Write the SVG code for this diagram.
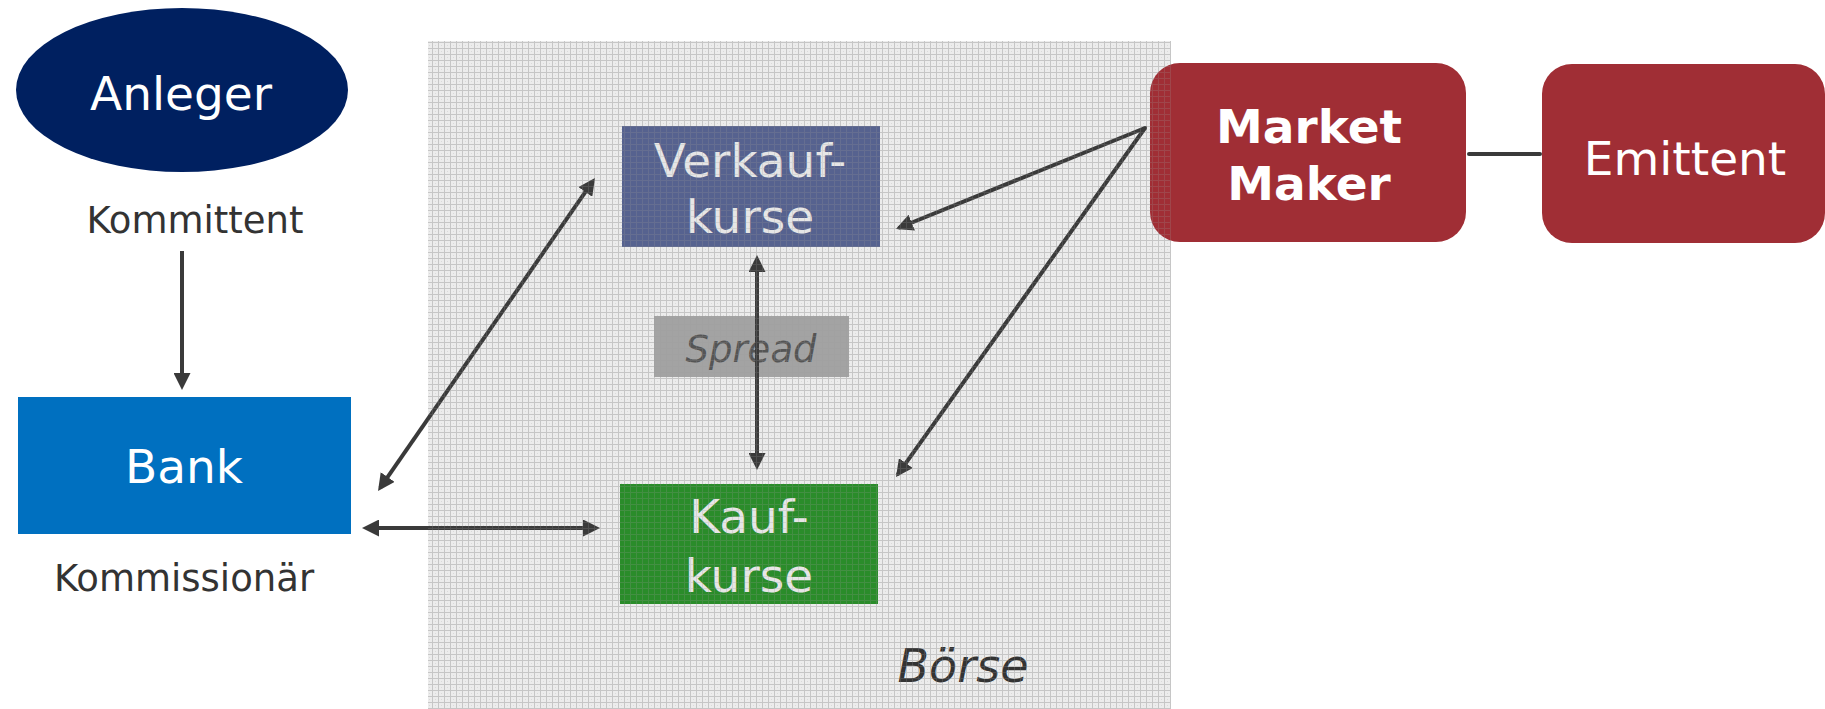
<svg xmlns="http://www.w3.org/2000/svg" width="1825" height="709" viewBox="0 0 1825 709">
<defs>
<pattern id="grid" width="6" height="6" patternUnits="userSpaceOnUse">
<rect width="6" height="6" fill="#ececec"/>
<rect x="0" y="0" width="6" height="1" fill="#d2d2d2"/>
<rect x="0" y="0" width="1" height="6" fill="#d2d2d2"/>
<rect x="3" y="3" width="1" height="1" fill="#dadada"/>
</pattern>
<pattern id="tex" width="6" height="6" patternUnits="userSpaceOnUse">
<rect x="0" y="0" width="6" height="1" fill="#9a9a9a"/>
<rect x="0" y="0" width="1" height="6" fill="#9a9a9a"/>
</pattern>
<marker id="ah" viewBox="0 0 17 17" refX="13" refY="8.5" markerWidth="17" markerHeight="17" markerUnits="userSpaceOnUse" orient="auto-start-reverse">
<path d="M0,0 L17,8.5 L0,17 z" fill="#3a3a3a"/>
</marker>
</defs>
<style>
.big{font-family:"DejaVu Sans",Verdana,sans-serif;font-size:47px;text-anchor:middle}
.lbl{font-family:"DejaVu Sans",Verdana,sans-serif;font-size:37px;fill:#333333;text-anchor:middle}
.w{fill:#ffffff}
.lt{fill:#e6e6e6}
.conn line{stroke:#3a3a3a;stroke-width:4;fill:none}
</style>
<rect width="1825" height="709" fill="#ffffff"/>
<g id="boerse">
<rect x="428" y="41" width="743" height="668" fill="url(#grid)"/>
<text x="963" y="682" font-family="DejaVu Sans, Verdana, sans-serif" font-size="46" font-style="italic" fill="#333333" text-anchor="middle">Börse</text>
</g>
<g id="anleger">
<ellipse cx="182" cy="90" rx="166" ry="82" fill="#002060"/>
<text x="181" y="110" class="big w">Anleger</text>
<text x="195" y="233" class="lbl">Kommittent</text>
</g>
<g id="bank">
<rect x="18" y="397" width="333" height="137" fill="#0070c0"/>
<text x="184" y="483" class="big w">Bank</text>
<text x="184" y="591" class="lbl">Kommissionär</text>
</g>
<g id="verkauf">
<rect x="622" y="126" width="258" height="121" fill="#56628f"/>
<text x="750" y="177" class="big lt">Verkauf-</text>
<text x="750" y="233" class="big lt">kurse</text>
</g>
<g id="spread">
<rect x="654" y="316" width="195" height="61" fill="#a3a3a3"/>
<text x="751" y="362" font-family="DejaVu Sans, Verdana, sans-serif" font-size="37" font-style="italic" fill="#555555" text-anchor="middle">Spread</text>
</g>
<g id="kauf">
<rect x="620" y="484" width="258" height="120" fill="#2a8c2a"/>
<text x="749" y="533" class="big lt">Kauf-</text>
<text x="749" y="592" class="big lt">kurse</text>
</g>
<g id="marketmaker">
<rect x="1150" y="63" width="316" height="179" rx="30" fill="#a02e35"/>
<text x="1309" y="143" class="big w" font-weight="bold">Market</text>
<text x="1309" y="200" class="big w" font-weight="bold">Maker</text>
</g>
<g id="emittent">
<rect x="1542" y="64" width="283" height="179" rx="30" fill="#a02e35"/>
<text x="1685" y="175" class="big w">Emittent</text>
</g>
<g id="connectors" class="conn">
<line x1="182" y1="251" x2="182" y2="386" marker-end="url(#ah)"/>
<line x1="366" y1="528" x2="596" y2="528" marker-start="url(#ah)" marker-end="url(#ah)"/>
<line x1="757" y1="259" x2="757" y2="466" marker-start="url(#ah)" marker-end="url(#ah)"/>
<line x1="380.3" y1="487.7" x2="592.7" y2="181.3" marker-start="url(#ah)" marker-end="url(#ah)"/>
<line x1="1145" y1="128" x2="899.7" y2="227.5" stroke-linecap="round" marker-end="url(#ah)"/>
<line x1="1145" y1="128" x2="898.3" y2="473.7" stroke-linecap="round" marker-end="url(#ah)"/>
<line x1="1469" y1="154" x2="1540" y2="154" stroke="#333333" stroke-width="5" stroke-linecap="round"/>
</g>
<rect x="428" y="41" width="743" height="668" fill="url(#tex)" opacity="0.22"/>
</svg>
